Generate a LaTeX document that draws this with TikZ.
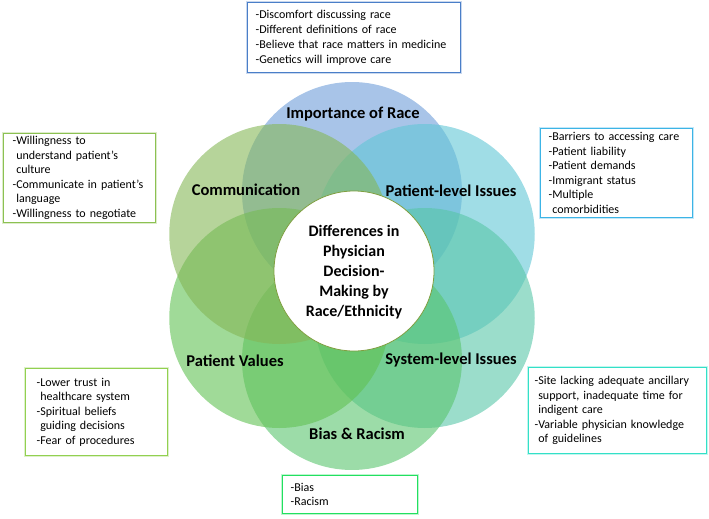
\documentclass[tikz,border=0pt]{standalone}
\usepackage{fontspec}
\setmainfont{Carlito}
\usetikzlibrary{positioning}
\definecolor{raceC}{HTML}{6E9DD9}
\definecolor{patC}{HTML}{61C6D5}
\definecolor{sysC}{HTML}{58C6A8}
\definecolor{biasC}{HTML}{5AC56E}
\definecolor{valC}{HTML}{61C153}
\definecolor{commC}{HTML}{85B757}
\definecolor{raceB}{HTML}{4A7EC8}
\definecolor{patB}{HTML}{3CB4E6}
\definecolor{sysB}{HTML}{33E0C8}
\definecolor{biasB}{HTML}{22E060}
\definecolor{valB}{HTML}{92D050}
\definecolor{commB}{HTML}{8CC152}
\definecolor{rimC}{HTML}{7F9F40}
\tikzset{
  petal/.style={fill=#1, fill opacity=0.6},
  lbl/.style={font=\bfseries\fontsize{16.5}{19}\selectfont},
  infobox/.style={draw=#1, line width=1.2pt, fill=white,
    preaction={draw=#1!30, line width=3.5pt},
    font=\fontsize{12}{14.5}\selectfont, align=left,
    anchor=north west, inner ysep=0pt}
}
\newcommand{\ind}{\phantom{-}}
\begin{document}
\begin{tikzpicture}[x=1pt,y=-1pt]
  \useasboundingbox (0,0) rectangle (709,519);
  \coordinate (c) at (352,276);
  % petals
  \foreach \a/\col in {270/raceC,330/patC,30/sysC,90/biasC,150/valC,210/commC}
    \fill[petal=\col] (c) ++(\a:84) circle (110);
  \draw[rimC, line width=0.8pt, fill=white] (354,271) circle (80);
  \node[font=\bfseries\fontsize{16}{20}\selectfont, align=center] (hub) at (354,272)
    {Differences in\\Physician\\Decision-\\Making by\\Race/Ethnicity};
  % petal labels
  \node[lbl] (race) at (353,114) {Importance of Race};
  \node[lbl] (comm) at (246,190) {Communication};
  \node[lbl] (pat) at (451,191) {Patient-level Issues};
  \node[lbl] (val) at (235,361) {Patient Values};
  \node[lbl] (sys) at (451,360) {System-level Issues};
  \node[lbl] (bias) at (357,434) {Bias \& Racism};
  % boxes
  \node[infobox=raceB, text width=197pt, minimum height=70pt, inner xsep=8pt,
    font=\fontsize{12}{15}\selectfont] (raceBox) at (247,2)
    {-Discomfort discussing race\\-Different definitions of race\\-Believe that race matters in medicine\\-Genetics will improve care};
  \node[infobox=commB, text width=134pt, minimum height=89pt, inner xsep=9pt] (commBox) at (3,133)
    {-Willingness to\\\ind understand patient’s\\\ind culture\\-Communicate in patient’s\\\ind language\\-Willingness to negotiate};
  \node[infobox=patB, text width=136pt, minimum height=89pt, inner xsep=8pt] (patBox) at (540,128)
    {-Barriers to accessing care\\-Patient liability\\-Patient demands\\-Immigrant status\\-Multiple\\\ind comorbidities};
  \node[infobox=valB, text width=120pt, minimum height=87pt, inner xsep=11pt] (valBox) at (25,368)
    {-Lower trust in\\\ind healthcare system\\-Spiritual beliefs\\\ind guiding decisions\\-Fear of procedures};
  \node[infobox=sysB, text width=166pt, minimum height=86pt, inner xsep=6pt] (sysBox) at (528,367)
    {-Site lacking adequate ancillary\\\ind support, inadequate time for\\\ind indigent care\\-Variable physician knowledge\\\ind of guidelines};
  \node[infobox=biasB, text width=119pt, minimum height=38pt, inner xsep=8pt] (biasBox) at (282,475)
    {-Bias\\-Racism};
\end{tikzpicture}
\end{document}
